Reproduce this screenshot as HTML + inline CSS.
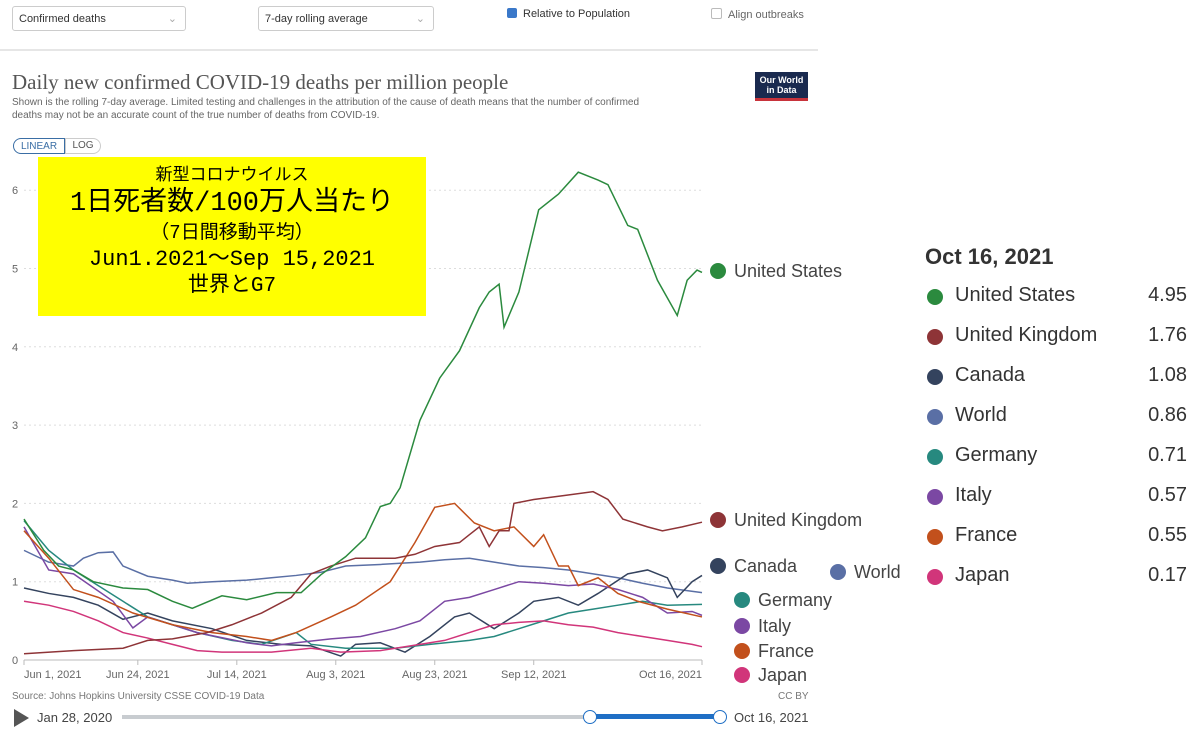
<!DOCTYPE html>
<html><head><meta charset="utf-8"><style>
body{margin:0;width:1200px;height:730px;background:#fff;overflow:hidden;position:relative;font-family:"Liberation Sans","Noto Sans CJK JP",sans-serif;}
.a{position:absolute;white-space:nowrap;}
.sel{position:absolute;border:1px solid #ccc;border-radius:3px;height:25px;font-size:11px;color:#333;line-height:25px;padding-left:6px;box-sizing:border-box;}
.sel span{position:absolute;right:8px;top:0;color:#aaa;}
.lg{position:absolute;font-size:20px;color:#333;}
.dot{position:absolute;width:16px;height:16px;border-radius:50%;}
.el{position:absolute;font-size:18px;color:#444;white-space:nowrap;}
</style></head><body>
<div class="sel" style="left:12px;top:6px;width:174px;">Confirmed deaths<span>⌄</span></div>
<div class="sel" style="left:258px;top:6px;width:176px;">7-day rolling average<span>⌄</span></div>
<div class="a" style="left:507px;top:8px;font-size:11px;color:#333;"><span style="display:inline-block;width:10px;height:10px;background:#3a78c9;border-radius:2px;vertical-align:-1px;margin-right:6px;"></span>Relative to Population</div>
<div class="a" style="left:711px;top:8px;font-size:11px;color:#666;"><span style="display:inline-block;width:9px;height:9px;border:1px solid #bbb;border-radius:2px;vertical-align:-1px;margin-right:6px;"></span>Align outbreaks</div>
<div class="a" style="left:0;top:49px;width:818px;height:2px;background:#e6e6e6;"></div>
<div class="a" style="left:12px;top:70px;font-family:'Liberation Serif',serif;font-size:21px;color:#555;">Daily new confirmed COVID-19 deaths per million people</div>
<div class="a" style="left:12px;top:96px;font-size:10px;color:#666;line-height:13px;">Shown is the rolling 7-day average. Limited testing and challenges in the attribution of the cause of death means that the number of confirmed<br>deaths may not be an accurate count of the true number of deaths from COVID-19.</div>
<div class="a" style="left:755px;top:72px;width:53px;height:29px;background:#1a2a4f;border-bottom:3px solid #c8333b;box-sizing:border-box;color:#fff;font-size:9px;font-weight:bold;text-align:center;line-height:10px;padding-top:3px;">Our World<br>in Data</div>
<div class="a" style="left:13px;top:138px;width:52px;height:16px;border:1px solid #3a6ea5;border-radius:8px 0 0 8px;font-size:10px;color:#3a6ea5;text-align:center;line-height:16px;box-sizing:border-box;">LINEAR</div>
<div class="a" style="left:65px;top:138px;width:36px;height:16px;border:1px solid #ccc;border-radius:0 8px 8px 0;font-size:10px;color:#555;text-align:center;line-height:14px;box-sizing:border-box;">LOG</div>

<svg id="chart" class="a" style="left:0;top:0" width="1200" height="730"></svg>

<div class="a" style="left:38px;top:157px;width:388px;height:159px;background:#ffff00;text-align:center;color:#000;font-family:'Liberation Mono','Noto Sans CJK JP',monospace;">
<div style="font-size:17px;margin-top:9px;line-height:22px;">新型コロナウイルス</div>
<div style="font-size:27px;line-height:32px;">1日死者数/100万人当たり</div>
<div style="font-size:19px;line-height:26px;">（7日間移動平均）</div>
<div style="font-size:22px;line-height:28px;">Jun1.2021～Sep 15,2021</div>
<div style="font-size:21px;line-height:26px;">世界とG7</div>
</div>

<div class="a" style="left:12px;top:691px;font-size:10px;color:#777;">Source: Johns Hopkins University CSSE COVID-19 Data</div>
<div class="a" style="left:778px;top:691px;font-size:10px;color:#777;">CC BY</div>
<div class="a" style="left:14px;top:709px;width:0;height:0;border-left:15px solid #555;border-top:9px solid transparent;border-bottom:9px solid transparent;"></div>
<div class="a" style="left:37px;top:710px;font-size:13px;color:#444;">Jan 28, 2020</div>
<div class="a" style="left:122px;top:715px;width:598px;height:4px;background:#c8ccd0;"></div>
<div class="a" style="left:590px;top:714px;width:130px;height:5px;background:#1f6fc5;"></div>
<div class="a" style="left:583px;top:710px;width:12px;height:12px;border:1.5px solid #1f6fc5;border-radius:50%;background:#fff;"></div>
<div class="a" style="left:713px;top:710px;width:12px;height:12px;border:1.5px solid #1f6fc5;border-radius:50%;background:#fff;"></div>
<div class="a" style="left:734px;top:710px;font-size:13px;color:#444;">Oct 16, 2021</div>

<div class="a" style="left:925px;top:244px;font-size:22px;font-weight:bold;color:#333;">Oct 16, 2021</div>
<div id="legend"></div>

<script>
const days = {
 us:[0,4,7,10,14,20,25,30,34,40,45,51,56,60,65,69,72,74,76,80,84,88,92,94,96,97,100,104,108,112,116,118,122,124,128,132,134,136,137],
 uk:[0,10,20,25,30,37,42,48,54,58,62,67,75,79,83,88,90,92,94,96,98,99,103,109,115,118,121,126,129,133,137],
 fr:[0,5,10,15,22,30,38,45,50,55,62,67,74,79,83,87,91,95,99,103,105,108,110,112,116,120,124,130,137],
 wo:[0,5,10,12,15,18,20,25,30,33,38,45,50,55,60,65,72,80,85,90,95,100,105,110,115,120,125,130,137],
 ca:[0,5,10,15,20,25,30,38,45,52,58,64,67,72,77,82,87,90,95,100,103,108,112,116,122,126,130,132,135,137],
 de:[0,5,10,15,20,25,30,35,42,48,55,58,65,75,82,90,95,100,105,110,115,120,125,130,137],
 it:[0,5,10,18,22,25,30,35,45,50,55,62,68,75,80,85,90,95,100,105,110,115,120,125,130,135,137],
 jp:[0,5,10,15,20,25,30,35,40,50,58,64,72,80,85,90,95,100,105,110,115,120,125,130,135,137]
};
const usVals=[1.8,1.4,1.2,1.15,1.0,0.92,0.9,0.75,0.66,0.82,0.77,0.86,0.86,1.09,1.32,1.56,1.96,2.0,2.2,3.06,3.6,3.95,4.5,4.7,4.8,4.25,4.7,5.75,5.95,6.23,6.13,6.07,5.55,5.5,4.85,4.4,4.85,4.98,4.95];
const ukVals=[0.08,0.12,0.15,0.25,0.27,0.35,0.45,0.6,0.8,1.1,1.2,1.3,1.3,1.35,1.45,1.5,1.6,1.7,1.45,1.65,1.65,2.0,2.05,2.1,2.15,2.05,1.8,1.7,1.65,1.7,1.76];
const frVals=[1.65,1.3,0.9,0.8,0.6,0.45,0.35,0.3,0.25,0.35,0.55,0.7,1.0,1.5,1.95,2.0,1.75,1.65,1.7,1.45,1.6,1.2,1.2,0.95,1.05,0.85,0.75,0.65,0.55];
const woVals=[1.4,1.25,1.2,1.3,1.37,1.38,1.2,1.07,1.02,0.98,1.0,1.02,1.05,1.08,1.12,1.2,1.22,1.25,1.28,1.3,1.25,1.2,1.18,1.15,1.1,1.05,0.98,0.92,0.86];
const caVals=[0.92,0.85,0.8,0.7,0.52,0.6,0.5,0.4,0.25,0.2,0.18,0.05,0.2,0.22,0.1,0.3,0.55,0.6,0.4,0.6,0.75,0.8,0.7,0.85,1.1,1.15,1.05,0.8,1.0,1.08];
const deVals=[1.78,1.4,1.15,0.95,0.75,0.55,0.45,0.35,0.25,0.2,0.35,0.2,0.15,0.15,0.2,0.25,0.3,0.4,0.5,0.6,0.65,0.7,0.75,0.7,0.71];
const itVals=[1.7,1.15,1.1,0.75,0.41,0.55,0.45,0.35,0.22,0.18,0.22,0.27,0.3,0.4,0.5,0.75,0.8,0.9,1.0,0.98,0.95,0.97,0.9,0.8,0.6,0.62,0.57];
const jpVals=[0.75,0.7,0.62,0.5,0.35,0.28,0.2,0.12,0.1,0.1,0.15,0.1,0.12,0.2,0.25,0.35,0.45,0.48,0.5,0.45,0.42,0.35,0.3,0.25,0.2,0.17];
const yTicks=[0,1,2,3,4,5,6];
const xTickDays=[0,23,43,63,83,103,137];
const xTickLabels=["Jun 1, 2021","Jun 24, 2021","Jul 14, 2021","Aug 3, 2021","Aug 23, 2021","Sep 12, 2021","Oct 16, 2021"];
const names=["United States","United Kingdom","Canada","World","Germany","Italy","France","Japan"];
const latest=["4.95","1.76","1.08","0.86","0.71","0.57","0.55","0.17"];

const X0=24,X1=702,DMAX=137,Y0=660,PU=78.3;
const sx=d=>X0+d*(X1-X0)/DMAX, sy=v=>Y0-v*PU;
const NS="http://www.w3.org/2000/svg", svg=document.getElementById('chart');
function mk(t,a){const e=document.createElementNS(NS,t);for(const k in a)e.setAttribute(k,a[k]);svg.appendChild(e);return e;}
yTicks.forEach(v=>{
 if(v>0){const g=mk('line',{x1:X0,x2:X1,y1:sy(v),y2:sy(v),stroke:'#ddd','stroke-dasharray':'2,3'});
 
 }
 const t=mk('text',{x:12,y:sy(v)+4,'font-size':11,fill:'#666','font-family':'Liberation Sans'});t.textContent=v;
 
 
});
const ax=mk('line',{x1:X0,x2:X1,y1:Y0,y2:Y0,stroke:'#bbb'});


xTickDays.forEach((d,i)=>{
 mk('line',{x1:sx(d),x2:sx(d),y1:Y0,y2:Y0+5,stroke:'#bbb'});
 const anchor=i==0?'start':(i==xTickDays.length-1?'end':'middle');
 const t=mk('text',{x:sx(d)+(i==0?0:0),y:Y0+18,'font-size':11,fill:'#666','text-anchor':anchor,'font-family':'Liberation Sans'});t.textContent=xTickLabels[i];
 
 
});
const series=[['us',usVals,'#2b8a3e'],['uk',ukVals,'#8e3437'],['ca',caVals,'#34435e'],['wo',woVals,'#5a6fa5'],['de',deVals,'#27897f'],['it',itVals,'#7b48a3'],['fr',frVals,'#c2501c'],['jp',jpVals,'#d1357a']];
const drawOrder=[3,2,4,5,7,6,1,0];
drawOrder.forEach(i=>{const [k,vals,c]=series[i];
 const p=mk('polyline',{points:days[k].map((d,j)=>sx(d)+','+sy(vals[j])).join(' '),fill:'none',stroke:c,'stroke-width':1.5});
 
 
});
// end labels
const endPos=[[718,271],[718,520],[718,566],[838,572],[742,600],[742,626],[742,651],[742,675]];
names.forEach((n,i)=>{const [x,y]=endPos[i];
 const c=mk('circle',{cx:x,cy:y,r:8,fill:series[i][2]});
 
 
 const t=mk('text',{x:x+16,y:y+6,'font-size':18,fill:'#444','font-family':'Liberation Sans'});t.textContent=n;
 
 
});
// legend panel
const lg=document.getElementById('legend');
names.forEach((n,i)=>{const y=297+i*40;
 const d=document.createElement('div');d.className='dot';d.style.left='927px';d.style.top=(y-8)+'px';d.style.background=series[i][2];
 
 
 lg.appendChild(d);
 const l=document.createElement('div');l.className='lg';l.style.left='955px';l.style.top=(y-13)+'px';l.textContent=n;
 
 
 lg.appendChild(l);
 const v=document.createElement('div');v.className='lg';v.style.right='13px';v.style.top=(y-13)+'px';v.textContent=latest[i];
 
 
 lg.appendChild(v);
});
</script>
</body></html>
